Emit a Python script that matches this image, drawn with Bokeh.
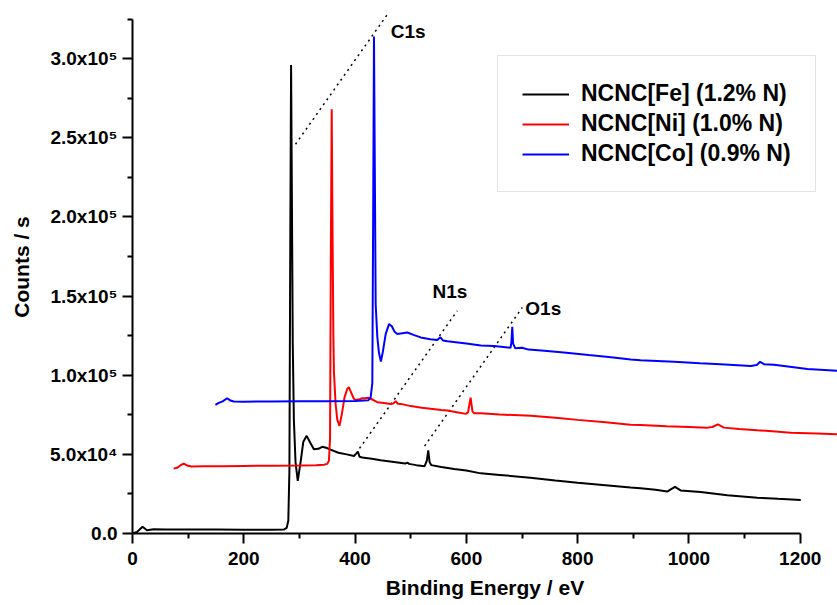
from bokeh.plotting import figure
from bokeh.models import Range1d, FixedTicker, Legend, LegendItem
from bokeh.core.properties import value
from bokeh.embed import file_html
from bokeh.resources import INLINE

# ---------------- data ----------------
series_names = ["NCNC[Fe] (1.2% N)", "NCNC[Ni] (1.0% N)", "NCNC[Co] (0.9% N)"]

fe_x = [0, 8, 18, 26, 38, 60, 100, 150, 200, 250, 272, 277, 280, 282, 283.5, 285, 286.5,
        288, 290, 293, 297, 302, 307, 313, 320, 326, 334, 341, 348, 356, 370, 385, 398,
        402, 405, 408, 413, 430, 446, 470, 490, 494, 497, 510, 525, 529, 531.5, 534, 537,
        555, 578, 600, 626, 660, 715, 760, 800, 850, 895, 913, 940, 961, 968, 975, 985,
        1021, 1069, 1123, 1160, 1201]
fe_y = [0, 1000, 4300, 2000, 2700, 2500, 2600, 2500, 2400, 2400, 2500, 3500, 8000, 40000,
        180000, 296000, 210000, 120000, 72000, 45000, 33200, 45000, 58000, 61700, 57000,
        53300, 53500, 54800, 54200, 53000, 51000, 50000, 49000, 50500, 51800, 48500, 48000,
        47200, 46300, 45200, 44200, 44800, 44000, 43200, 42500, 46000, 52600, 45000, 43200,
        42000, 40700, 39800, 38000, 37000, 35300, 33500, 32000, 30500, 29000, 28600, 27600,
        26500, 28000, 29500, 27200, 26200, 24100, 22600, 21900, 21200]

ni_x = [74, 80, 86, 92, 98, 106, 130, 160, 200, 250, 300, 330, 344, 350, 353, 355, 356.5,
        358, 359.5, 361, 362, 365, 368, 372, 376, 381, 386, 389, 393, 398, 401, 408, 413,
        418, 424, 432, 440, 452, 464, 469, 473, 477, 482, 500, 520, 536, 555, 566, 585,
        599, 603, 607.6, 611, 614, 626, 660, 716, 760, 800, 850, 895, 913, 960, 1000, 1033,
        1042, 1052, 1063, 1090, 1123, 1150, 1183, 1230, 1267]
ni_y = [41000, 41500, 43000, 44200, 43000, 42300, 42500, 42500, 42700, 42800, 43000, 43200,
        43500, 44000, 46000, 60000, 180000, 268000, 190000, 125000, 102000, 82000, 72000,
        68000, 75000, 86000, 91500, 92400, 89000, 85000, 84300, 84800, 85500, 85500, 85800,
        84500, 83000, 82500, 81900, 82200, 83600, 82000, 81900, 80500, 79500, 78800, 78000,
        77700, 76500, 75600, 76500, 85800, 77000, 76000, 76000, 75200, 74400, 73200, 71800,
        70300, 68700, 68600, 67800, 67300, 66900, 67300, 69000, 66900, 66000, 65200, 64600,
        63700, 63200, 62700]

co_x = [149, 155, 162, 170, 176, 182, 200, 250, 300, 350, 400, 424, 428, 431, 432.5, 434,
        435.5, 437, 440, 443, 446.4, 450, 455, 461, 466, 471, 476, 485, 494, 505, 518, 535,
        548, 553, 558, 566, 600, 626, 650, 679.5, 681, 682.5, 684, 688, 700, 712, 740, 775,
        820, 860, 895.5, 913, 973, 1020, 1057, 1111, 1122, 1128, 1135, 1153, 1213, 1267]
co_y = [81300, 82500, 83500, 85500, 84000, 83400, 83300, 83400, 83500, 83600, 83700, 84200,
        86000, 95000, 200000, 314000, 230000, 145000, 124000, 114000, 108600, 115000,
        126000, 132300, 131000, 127500, 126000, 126500, 127000, 125500, 123900, 122800,
        122300, 124000, 122000, 121500, 120000, 118800, 118500, 117400, 121000, 130600,
        120000, 117000, 117400, 116200, 115500, 114400, 112800, 111400, 110000, 109500,
        108500, 107600, 107000, 105800, 106500, 108500, 107000, 106600, 103900, 102800]

# peak annotations
peak_labels = ["C1s", "N1s", "O1s"]
peak_label_x = [464, 539, 706]
peak_label_y = [317500, 152700, 142200]
guide_x0 = [293, 408, 525]
guide_y0 = [246000, 53800, 55300]
guide_x1 = [460, 583.6, 700.5]
guide_y1 = [329000, 140700, 142800]

x_ticks = [0, 200, 400, 600, 800, 1000, 1200]
x_minor = [100, 300, 500, 700, 900, 1100]
y_ticks = [0, 50000, 100000, 150000, 200000, 250000, 300000]
y_minor = [25000, 75000, 125000, 175000, 225000, 275000, 325000]
y_tick_labels = ["0.0", "5.0x10\u2074", "1.0x10\u2075", "1.5x10\u2075",
                 "2.0x10\u2075", "2.5x10\u2075", "3.0x10\u2075"]

colors = ["#000000", "#ff0000", "#0000ff"]
FONT = "Liberation Sans"

# ---------------- figure ----------------
p = figure(width=837, height=605, x_range=Range1d(0, 1267), y_range=Range1d(0, 336800),
           output_backend="svg", toolbar_location=None)
p.outline_line_color = None
p.xgrid.visible = False
p.ygrid.visible = False
p.background_fill_color = "white"
p.border_fill_color = "white"
p.min_border_left = 132
p.min_border_right = 0
p.min_border_top = 0
p.min_border_bottom = 72

for ax in (p.xaxis[0], p.yaxis[0]):
    ax.axis_line_width = 2
    ax.major_tick_line_width = 2
    ax.minor_tick_line_width = 2
    ax.major_tick_in = 0
    ax.major_tick_out = 10
    ax.minor_tick_in = 0
    ax.minor_tick_out = 5
    ax.major_label_text_font = FONT
    ax.major_label_text_font_style = "bold"
    ax.major_label_text_font_size = "19px"
    ax.major_label_text_color = "black"
    ax.axis_label_text_font = FONT
    ax.axis_label_text_font_style = "bold"
    ax.axis_label_text_font_size = "21px"
    ax.axis_label_text_color = "black"

p.xaxis.bounds = (0, 1200)
p.yaxis.bounds = (0, 325000)
p.xaxis.ticker = FixedTicker(ticks=x_ticks, minor_ticks=x_minor)
p.yaxis.ticker = FixedTicker(ticks=y_ticks, minor_ticks=y_minor)
p.yaxis.major_label_overrides = {t: lab for t, lab in zip(y_ticks, y_tick_labels)}
p.xaxis.axis_label = "Binding Energy / eV"
p.yaxis.axis_label = "Counts / s"
p.xaxis.major_label_standoff = 8
p.xaxis.axis_label_standoff = 8
p.yaxis.major_label_standoff = 5
p.yaxis.axis_label_standoff = 14

# guide lines (dotted)
p.segment(x0=guide_x0, y0=guide_y0, x1=guide_x1, y1=guide_y1,
          line_color="black", line_width=1.5, line_dash="2 4")

renderers = []
for xs, ys, c in zip([fe_x, ni_x, co_x], [fe_y, ni_y, co_y], colors):
    r = p.line(xs, ys, line_color=c, line_width=2)
    renderers.append(r)

p.text(x=peak_label_x, y=peak_label_y, text=peak_labels, text_font=value(FONT),
       text_font_style="bold", text_font_size="19px", text_color="black",
       text_align="left", text_baseline="alphabetic")

legend = Legend(items=[LegendItem(label=n, renderers=[r]) for n, r in zip(series_names, renderers)],
                location=(365, 341))
legend.label_text_font = FONT
legend.label_text_font_style = "bold"
legend.label_text_font_size = "23px"
legend.label_text_color = "black"
legend.glyph_width = 47
legend.glyph_height = 24
legend.label_standoff = 12
legend.padding = 24
legend.spacing = 3
legend.margin = 0
legend.border_line_color = "#c8c8c8"
legend.border_line_width = 1.5
legend.background_fill_color = "white"
legend.background_fill_alpha = 1.0
p.add_layout(legend)

open("out.html", "w").write(file_html(p, INLINE))
